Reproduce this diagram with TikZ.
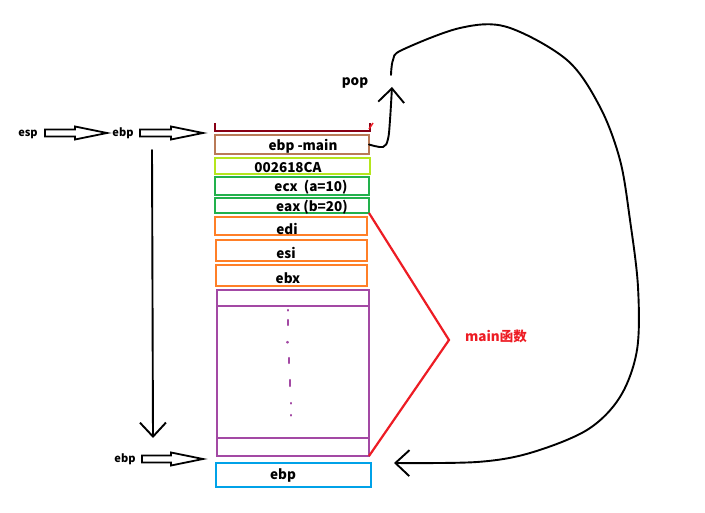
\documentclass[tikz,border=0pt]{standalone}
\usepackage{fontspec}
\setmainfont{Noto Sans CJK SC}
\usetikzlibrary{arrows.meta,calc}
\definecolor{dred}{HTML}{880015}
\definecolor{cbrown}{HTML}{B97A57}
\definecolor{clime}{HTML}{B5E61D}
\definecolor{cgreen}{HTML}{22B14C}
\definecolor{corange}{HTML}{FF7F27}
\definecolor{cpurple}{HTML}{A349A4}
\definecolor{cblue}{HTML}{00A2E8}
\definecolor{cred}{HTML}{ED1C24}
\begin{document}
\begin{tikzpicture}[x=1pt,y=-1pt,
  cell/.style={draw, line width=2.8pt, inner sep=0pt, outer sep=0pt, anchor=north west},
  lbl/.style={font=\bfseries\fontsize{13.5}{15}\selectfont, inner sep=0pt},
  sml/.style={font=\bfseries\fontsize{11}{13}\selectfont, inner sep=0pt},
  hand/.style={line width=1.9pt, line cap=round, line join=round},
  barb/.style={-{Straight Barb[length=14pt,width=26pt,line width=1.9pt]}},
  pics/blockarrow/.style={code={
    \draw[line width=1.8pt, line join=miter]
      (0,-3.5) -- (#1-32,-3.5) -- (#1-32,-6.5) -- (#1,0) -- (#1-32,6.5)
      -- (#1-32,3.5) -- (0,3.5) -- cycle;}}
]
\useasboundingbox (0,0) rectangle (705,513);

% top bracket
\draw[dred, line width=2.8pt] (215,123) -- (215,131) -- (370,131) -- (370,123);
\draw[cred, line width=1.4pt] (369,129) -- (373,123);

% stack cells
\node[cell, draw=cbrown, minimum width=154pt, minimum height=19pt] (bmain) at (215,135) {};
\node[cell, draw=clime, minimum width=155pt, minimum height=16pt] (ret) at (215,158) {};
\node[cell, draw=cgreen, minimum width=154pt, minimum height=18pt] (ecx) at (215,177) {};
\node[cell, draw=cgreen, minimum width=154pt, minimum height=15pt] (eax) at (215,198) {};
\node[cell, draw=corange, minimum width=152pt, minimum height=18pt] (edi) at (215,217) {};
\node[cell, draw=corange, minimum width=151pt, minimum height=21pt] (esi) at (216,240) {};
\node[cell, draw=corange, minimum width=151pt, minimum height=21pt] (ebx) at (216,265) {};
\node[cell, draw=cpurple, minimum width=152pt, minimum height=166pt] (pur) at (217,290) {};
\draw[cpurple, line width=2.8pt] (217,306) -- (369,306);
\draw[cpurple, line width=2.8pt] (217,438) -- (369,438);
\node[cell, draw=cblue, minimum width=155pt, minimum height=24pt] (ebpbox) at (216,463) {};

% dash-dot column
\begin{scope}[cpurple, line width=2.4pt, line cap=round]
\draw (288,310) -- (288,310.5);
\draw (288,320) -- (288,325);
\draw (287.5,342) -- (287.5,342.5);
\draw (289,358) -- (289,363);
\draw (290,380) -- (290,386);
\draw (291,403) -- (291,403.5);
\draw (291,415) -- (291,415.5);
\end{scope}

% cell texts
\node[lbl] (t1) at (303,146) {ebp -main};
\node[lbl] (t2) at (288,167) {002618CA};
\node[lbl] (t3) at (311,187) {ecx\ \ (a=10)};
\node[lbl] (t4) at (312,207) {eax (b=20)};
\node[lbl] (t5) at (287,229) {edi};
\node[lbl] (t6) at (286,253) {esi};
\node[lbl] (t7) at (288,278) {ebx};
\node[lbl] (t8) at (283,476) {ebp};

% left labels and block arrows
\node[sml] (esp) at (28,134) {esp};
\node[sml] (ebp1) at (123,133) {ebp};
\node[sml] (ebp2) at (125,459) {ebp};
\pic at (45,133) {blockarrow=62};
\pic at (140,133) {blockarrow=63};
\pic at (142,459) {blockarrow=61};

% vertical arrow
\coordinate (vtop) at (152,150);
\coordinate (vbot) at (153,438);
\draw[hand, barb] (vtop) -- (vbot);

% pop
\node[lbl] (pop) at (355,83) {pop};
\coordinate (poptip) at (392,87);
\draw[hand, barb] plot[smooth, tension=0.6] coordinates {(bmain.east) (383,147) (388,139) (390,120) (poptip)};

% big return curve
\coordinate (cstart) at (391,75);
\coordinate (cend) at (394,463);
\draw[hand, barb] plot[smooth, tension=0.55] coordinates {(cstart) (393,60) (402,50) (460,28) (507,27) (567,60) (600,107) (620,160) (630,220) (638,287) (637,350) (620,397) (587,430) (530,453) (477,462) (cend)};

% main bracket
\coordinate (apex) at (449,340);
\draw[cred, line width=2.2pt, line join=miter] (eax.south east) -- (apex) -- (pur.south east);
\node[lbl, text=cred, font=\bfseries\fontsize{13.5}{15}\selectfont] (mainlbl) at (496,336) {main函数};
\end{tikzpicture}
\end{document}
